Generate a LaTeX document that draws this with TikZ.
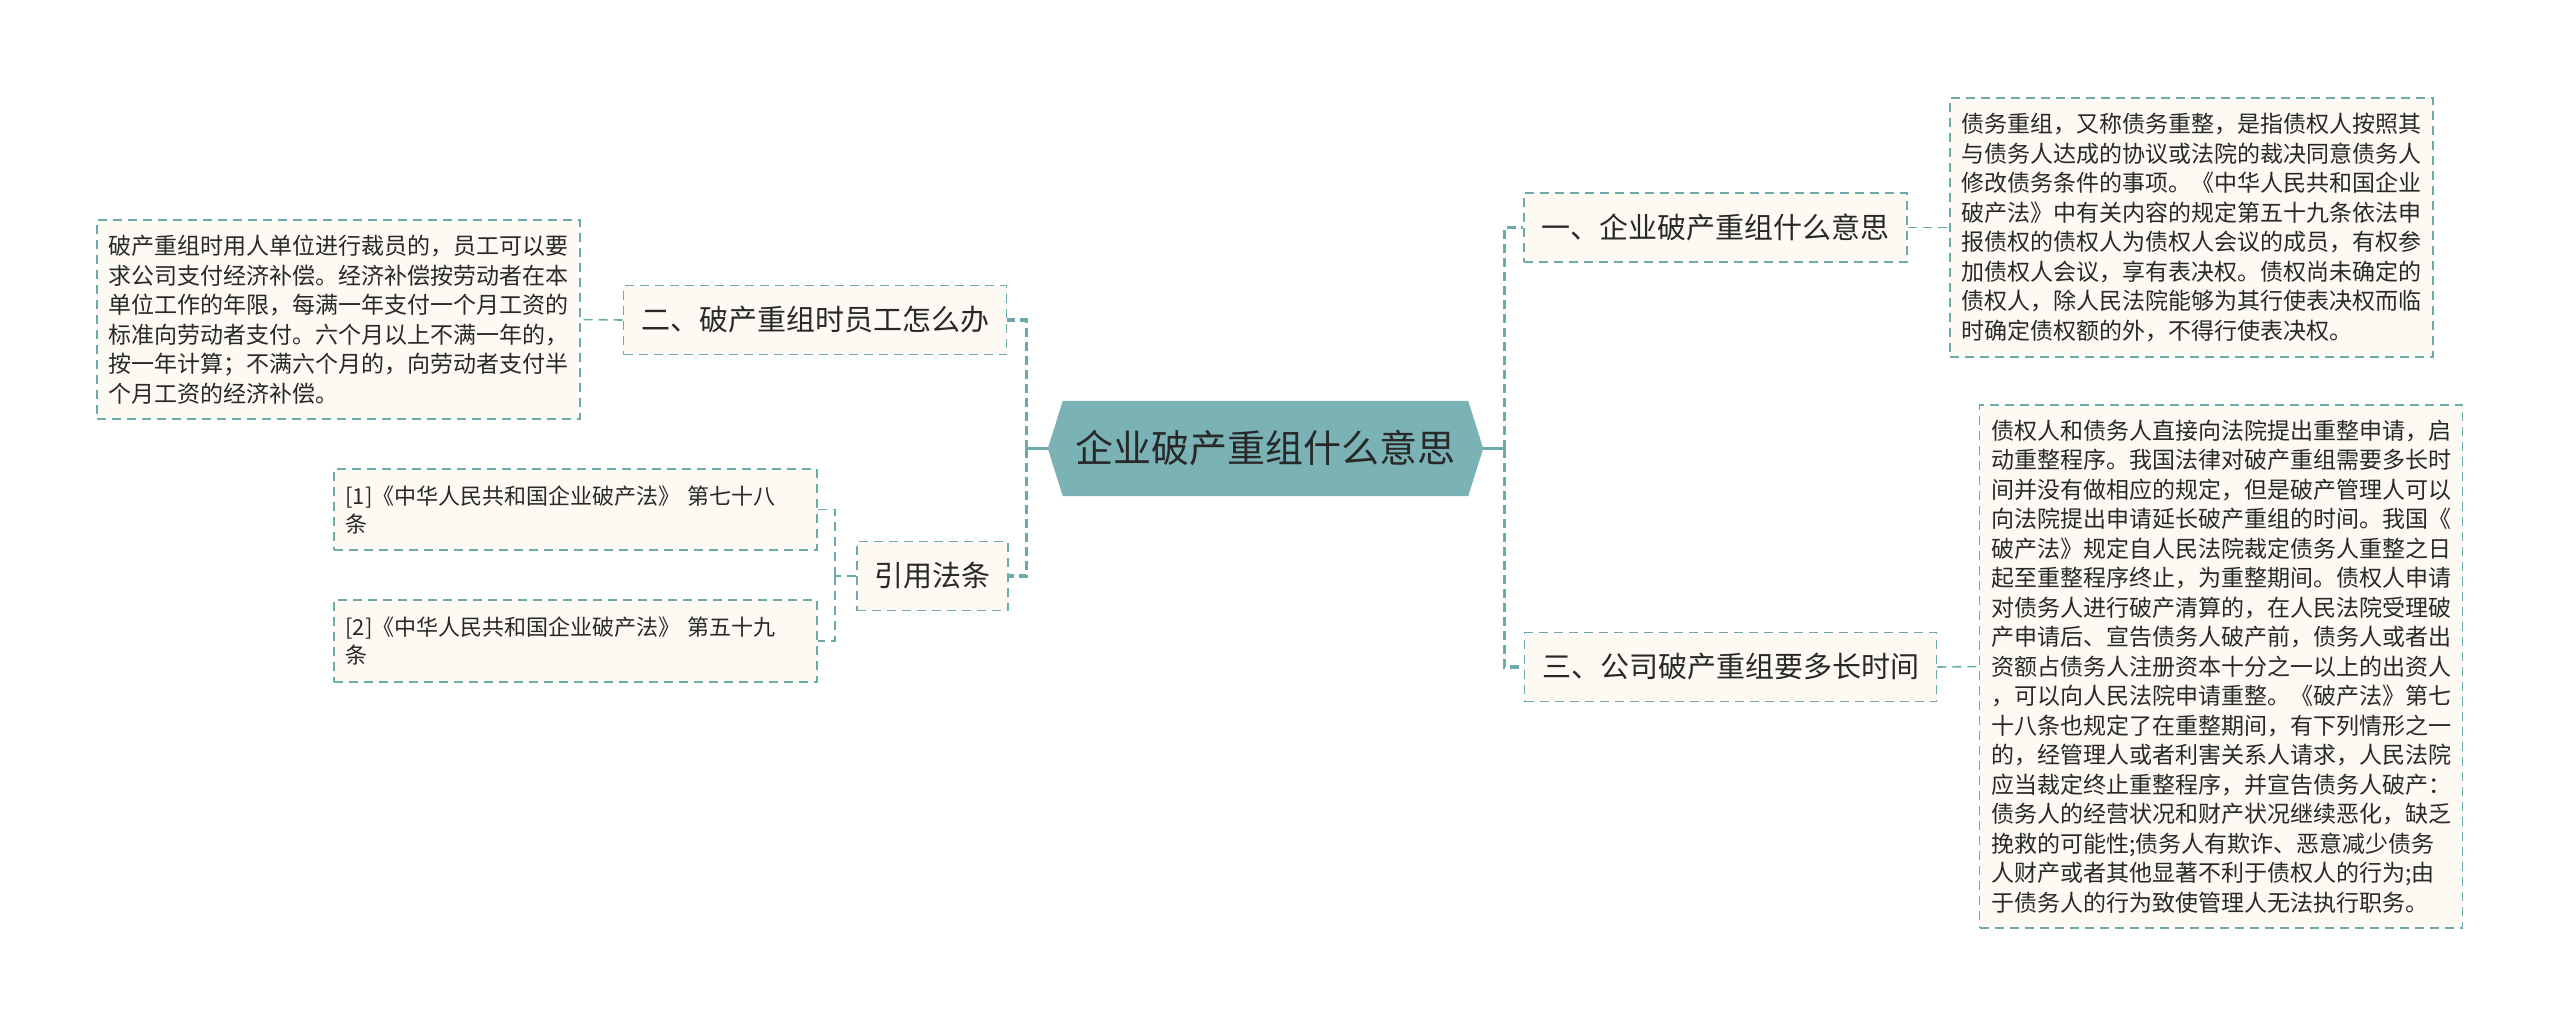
\documentclass[tikz,border=0pt]{standalone}
\usepackage{fontspec}
\setmainfont{Noto Sans CJK SC}
\usetikzlibrary{positioning}
\definecolor{linecol}{RGB}{108,170,172}
\definecolor{rootcol}{RGB}{122,178,181}
\definecolor{boxcol}{RGB}{252,250,242}
\definecolor{txtcol}{RGB}{40,40,40}
\pgfdeclarelayer{bg}
\pgfsetlayers{bg,main}
\begin{document}
\begin{tikzpicture}[x=1pt,y=-1pt,
	box/.style={draw=linecol,fill=boxcol,line width=1.6pt,dash pattern=on 9pt off 6pt,text=txtcol,inner sep=0pt},
	topic/.style={box,font=\fontsize{29}{34}\selectfont,minimum height=69pt,inner xsep=17.5pt},
	note/.style={box,font=\fontsize{23}{29.5}\selectfont,text width=460pt,inner xsep=11.5pt,align=left,minimum height=#1},
	lawnote/.style={note=#1,font=\fontsize{22}{28}\selectfont},
	rootnode/.style={minimum width=435pt,minimum height=95pt,inner sep=0pt,text=txtcol,font=\fontsize{38}{44}\selectfont},
	stem/.style={draw=linecol,line width=3pt},
	trunk/.style={draw=linecol,line width=3.2pt,dash pattern=on 9pt off 5pt},
	link/.style={draw=linecol,line width=1.6pt,dash pattern=on 9pt off 6pt}]
	\useasboundingbox (0,0) rectangle (2560,1029);
	\node[rootnode] (root) at (1265.5,448.5) {企业破产重组什么意思};
	\begin{pgfonlayer}{bg}
		\fill[white] (0,0) rectangle (2560,1029);
		\fill[rootcol] ([xshift=15pt]root.north west) -- ([xshift=-15pt]root.north east) -- (root.east)
			-- ([xshift=-15pt]root.south east) -- ([xshift=15pt]root.south west) -- (root.west) -- cycle;
	\end{pgfonlayer}
	\node[topic] (n1) at (1715.5,227.5) {一、企业破产重组什么意思};
	\node[topic] (n3) at (1730.5,667) {三、公司破产重组要多长时间};
	\node[topic] (n2) at (815,320) {二、破产重组时员工怎么办};
	\node[topic] (laws) at (932.5,576) {引用法条};
	\node[note=259pt] (d1) at (2191.5,227.5) {债务重组，又称债务重整，是指债权人按照其\\
		与债务人达成的协议或法院的裁决同意债务人\\
		修改债务条件的事项。《中华人民共和国企业\\
		破产法》中有关内容的规定第五十九条依法申\\
		报债权的债权人为债权人会议的成员，有权参\\
		加债权人会议，享有表决权。债权尚未确定的\\
		债权人，除人民法院能够为其行使表决权而临\\
		时确定债权额的外，不得行使表决权。};
	\node[note=523pt] (d3) at (2221,666.5) {债权人和债务人直接向法院提出重整申请，启\\
		动重整程序。我国法律对破产重组需要多长时\\
		间并没有做相应的规定，但是破产管理人可以\\
		向法院提出申请延长破产重组的时间。我国《\\
		破产法》规定自人民法院裁定债务人重整之日\\
		起至重整程序终止，为重整期间。债权人申请\\
		对债务人进行破产清算的，在人民法院受理破\\
		产申请后、宣告债务人破产前，债务人或者出\\
		资额占债务人注册资本十分之一以上的出资人\\
		，可以向人民法院申请重整。《破产法》第七\\
		十八条也规定了在重整期间，有下列情形之一\\
		的，经管理人或者利害关系人请求，人民法院\\
		应当裁定终止重整程序，并宣告债务人破产：\\
		债务人的经营状况和财产状况继续恶化，缺乏\\
		挽救的可能性;债务人有欺诈、恶意减少债务\\
		人财产或者其他显著不利于债权人的行为;由\\
		于债务人的行为致使管理人无法执行职务。};
	\node[note=199pt] (d2) at (338.5,319.5) {破产重组时用人单位进行裁员的，员工可以要\\
		求公司支付经济补偿。经济补偿按劳动者在本\\
		单位工作的年限，每满一年支付一个月工资的\\
		标准向劳动者支付。六个月以上不满一年的，\\
		按一年计算；不满六个月的，向劳动者支付半\\
		个月工资的经济补偿。};
	\node[lawnote=81pt] (r1) at (575.5,509.5) {[1]《中华人民共和国企业破产法》 第七十八\\条};
	\node[lawnote=82pt] (r2) at (575.5,641) {[2]《中华人民共和国企业破产法》 第五十九\\条};
	\draw[stem] (root.west) -- ++(-21,0) coordinate (lj);
	\draw[trunk] (lj) |- (n2.east);
	\draw[trunk] (lj) |- (laws.east);
	\draw[stem] (root.east) -- ++(21,0) coordinate (rj);
	\draw[trunk] (rj) |- (n1.west);
	\draw[trunk] (rj) |- (n3.west);
	\draw[link] (n1.east) -- (d1.west);
	\draw[link] (n3.east) -- (d3.west);
	\draw[link] (n2.west) -- (d2.east);
	\draw[link] (laws.west) -- ++(-21,0) coordinate (bj);
	\draw[link] (bj) |- (r1.east);
	\draw[link] (bj) |- (r2.east);
\end{tikzpicture}
\end{document}
